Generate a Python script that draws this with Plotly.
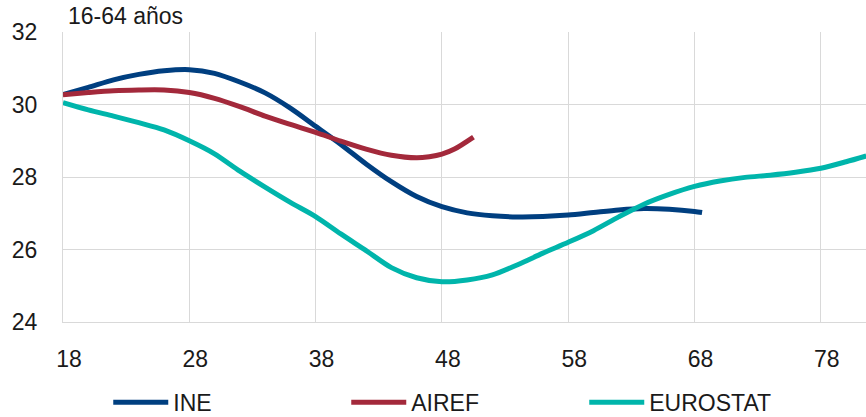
import plotly.graph_objects as go

ine_age = [18, 20, 22, 24, 26, 28, 30, 32, 34, 36, 38, 40, 42, 44, 46, 48, 50, 52, 54, 56, 58, 60, 62, 64, 66, 68, 68.6]
ine_val = [30.27, 30.47, 30.68, 30.83, 30.93, 30.96, 30.86, 30.62, 30.32, 29.9, 29.4, 28.9, 28.36, 27.87, 27.46, 27.18, 27.01, 26.93, 26.9, 26.91, 26.95, 27.02, 27.09, 27.13, 27.11, 27.05, 27.02]

airef_age = [18, 20, 22, 24, 26, 28, 30, 32, 34, 36, 38, 40, 42, 44, 46, 47, 48, 49, 50.5]
airef_val = [30.27, 30.33, 30.38, 30.4, 30.4, 30.33, 30.17, 29.94, 29.68, 29.45, 29.23, 28.99, 28.77, 28.6, 28.53, 28.56, 28.63, 28.77, 29.1]

euro_age = [18, 20, 22, 24, 26, 28, 30, 32, 34, 36, 38, 40, 42, 44, 46, 48, 50, 52, 54, 56, 58, 60, 62, 64, 66, 68, 70, 72, 74, 76, 78, 80, 81.6]
euro_val = [30.05, 29.85, 29.68, 29.5, 29.3, 29.0, 28.64, 28.16, 27.72, 27.3, 26.91, 26.43, 25.97, 25.5, 25.22, 25.11, 25.16, 25.3, 25.58, 25.9, 26.2, 26.52, 26.9, 27.25, 27.52, 27.74, 27.89, 27.99, 28.05, 28.13, 28.24, 28.42, 28.58]

x_ticks = [18, 28, 38, 48, 58, 68, 78]
y_ticks = [24, 26, 28, 30, 32]

FONT = "Liberation Sans"
TXT = "#1a1a1a"
GRID = "#d9d9d9"
FS = 23

fig = go.Figure()
for name, xs, ys, col in [
    ("INE", ine_age, ine_val, "#003f80"),
    ("AIREF", airef_age, airef_val, "#a3293b"),
    ("EUROSTAT", euro_age, euro_val, "#00b5ab"),
]:
    fig.add_trace(go.Scatter(x=xs, y=ys, name=name, mode="lines",
                             line=dict(color=col, width=5, shape="spline", smoothing=0.8)))

fig.update_layout(
    width=866, height=417,
    margin=dict(l=63, r=0, t=32, b=95),
    paper_bgcolor="white", plot_bgcolor="white",
    font=dict(family=FONT, size=FS, color=TXT),
    showlegend=True,
    legend=dict(orientation="h", xref="container", yref="container",
                x=0.125, y=0.035, xanchor="left", yanchor="middle",
                itemwidth=55, entrywidth=168, font=dict(size=FS, color=TXT),
                traceorder="normal", bgcolor="rgba(0,0,0,0)"),
    annotations=[dict(text="16-64 años", xref="paper", yref="paper", x=0, y=1,
                      xanchor="left", yanchor="bottom", xshift=3, yshift=1,
                      showarrow=False, font=dict(size=FS, color=TXT, family=FONT))],
)
fig.update_xaxes(range=[18, 81.58], tickvals=x_ticks, ticktext=[str(v) for v in x_ticks],
                 showgrid=True, gridcolor=GRID, gridwidth=1.3, zeroline=False,
                 showline=True, linecolor=GRID, linewidth=1.3, ticks="",
                 ticklabelstandoff=16, ticklabelshift=6, tickfont=dict(size=FS, color=TXT))
fig.update_yaxes(range=[24, 32], tickvals=y_ticks, ticktext=[str(v) for v in y_ticks],
                 showgrid=True, gridcolor=GRID, gridwidth=1.3, zeroline=False,
                 showline=True, linecolor=GRID, linewidth=1.3, ticks="",
                 ticklabelstandoff=20, tickfont=dict(size=FS, color=TXT))

fig.write_html("out.html")
